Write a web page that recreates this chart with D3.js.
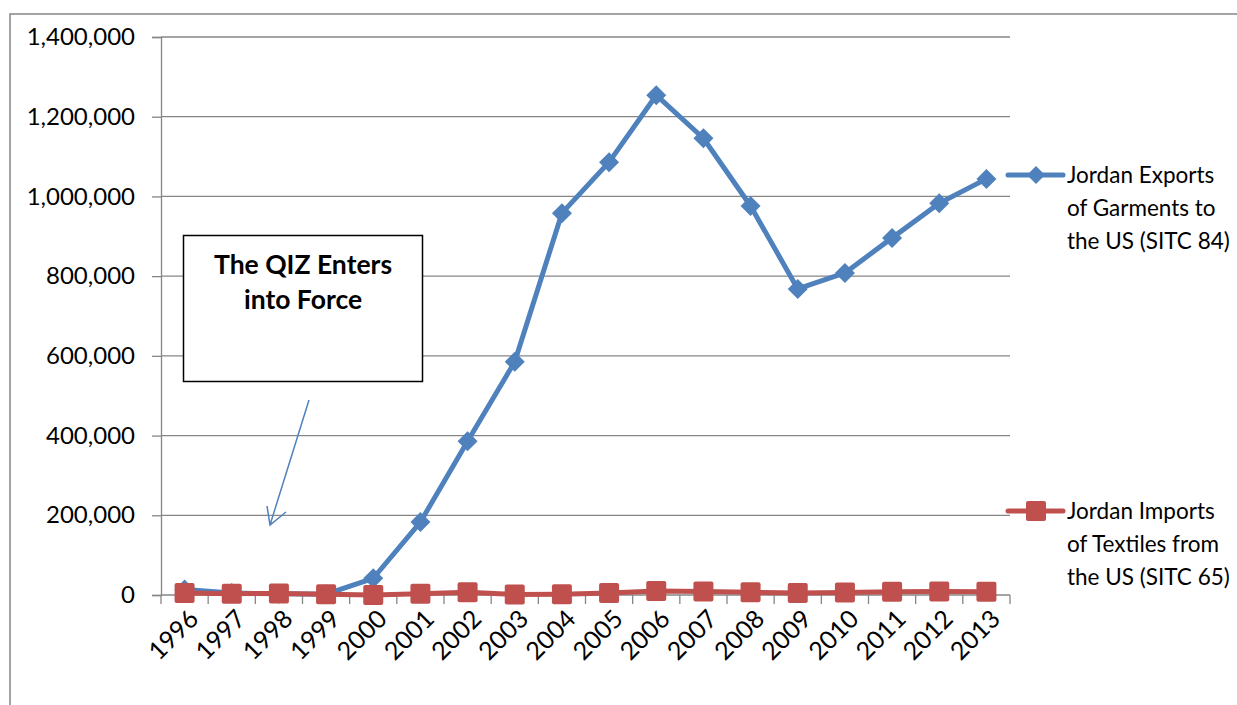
<!DOCTYPE html>
<html><head><meta charset="utf-8">
<script src="https://cdn.jsdelivr.net/npm/d3@7"></script>
<style>
html,body{margin:0;padding:0;background:#fff;overflow:hidden}
text{font-family:Lato,"Open Sans",sans-serif}
</style></head>
<body>
<svg id="c" width="1237" height="705"></svg>
<script>
const years = ["1996","1997","1998","1999","2000","2001","2002","2003","2004","2005","2006","2007","2008","2009","2010","2011","2012","2013"];
const garmentsExports = [14000,5000,3000,2000,42000,183000,386000,585000,958000,1086000,1254000,1146000,976000,768000,808000,896000,983000,1044000];
const textilesImports = [5000,3000,4000,2000,0,3000,7000,1000,2000,5000,10000,9000,7000,5000,6000,8000,9000,8000];
const yTicks = [0,200000,400000,600000,800000,1000000,1200000,1400000];
const seriesNames = [["Jordan Exports","of Garments to","the US (SITC 84)"],["Jordan Imports","of Textiles from","the US (SITC 65)"]];
const annotation = ["The QIZ Enters","into Force"];

const svg = d3.select("#c");
const L=161, R=1010, T=37, B=595;
const x = d3.scaleBand().domain(years).range([L,R]);
const y = d3.scaleLinear().domain([0,1400000]).range([B,T]);
const grey="#868686", blue="#4F81BD", red="#C0504D";

// outer border
svg.append("rect").attr("x",10).attr("y",14).attr("width",1300).attr("height",800)
  .attr("fill","none").attr("stroke",grey).attr("stroke-width",1.5);

// gridlines
svg.append("g").selectAll("line").data(yTicks.filter(d=>d>0)).join("line")
  .attr("x1",L).attr("x2",R).attr("y1",d=>y(d)).attr("y2",d=>y(d))
  .attr("stroke",grey).attr("stroke-width",1.3);

// y axis
const ya = svg.append("g").attr("transform",`translate(${L},0)`)
  .call(d3.axisLeft(y).tickValues(yTicks).tickSize(9).tickPadding(17).tickFormat(d3.format(",")));
ya.select(".domain").attr("stroke",grey).attr("stroke-width",1.3);
ya.selectAll(".tick line").attr("stroke",grey).attr("stroke-width",1.3);
ya.selectAll("text").attr("font-size",24).attr("fill","#000").style("font-family","Lato");

// x axis
const xa = svg.append("g").attr("transform",`translate(0,${B})`);
xa.append("line").attr("x1",L).attr("x2",R).attr("stroke",grey).attr("stroke-width",1.3);
const bounds = years.map(d=>x(d)).concat([R]);
xa.selectAll(".tk").data(bounds).join("line").attr("class","tk")
  .attr("x1",d=>d).attr("x2",d=>d).attr("y1",0).attr("y2",9).attr("stroke",grey).attr("stroke-width",1.3);
xa.selectAll(".lb").data(years).join("text").attr("class","lb")
  .attr("transform",d=>`translate(${x(d)+x.bandwidth()/2+3},${13}) rotate(-45)`)
  .attr("text-anchor","end").attr("dy","0.7em").attr("font-size",25).text(d=>d);

const cx = d=>x(d)+x.bandwidth()/2;
const line = d3.line().x((d,i)=>cx(years[i])).y(d=>y(d));

// blue series
svg.append("path").datum(garmentsExports).attr("d",line).attr("fill","none")
  .attr("stroke",blue).attr("stroke-width",5).attr("stroke-linejoin","round");
const diamond = s=>`M0,${-s}L${s},0L0,${s}L${-s},0Z`;
svg.append("g").selectAll("path").data(garmentsExports).join("path")
  .attr("transform",(d,i)=>`translate(${cx(years[i])},${y(d)})`).attr("d",diamond(10)).attr("fill",blue);

// red series
svg.append("path").datum(textilesImports).attr("d",line).attr("fill","none")
  .attr("stroke",red).attr("stroke-width",5).attr("stroke-linejoin","round");
svg.append("g").selectAll("rect").data(textilesImports).join("rect")
  .attr("x",(d,i)=>cx(years[i])-10).attr("y",d=>y(d)-10).attr("width",20).attr("height",20)
  .attr("rx",2).attr("fill",red);

// legend
const leg=[{c:blue,y:175,m:"d"},{c:red,y:511,m:"s"}];
leg.forEach((l,k)=>{
  const g=svg.append("g");
  g.append("line").attr("x1",1008).attr("x2",1063).attr("y1",l.y).attr("y2",l.y)
    .attr("stroke",l.c).attr("stroke-width",5).attr("stroke-linecap","round");
  if(l.m==="d") g.append("path").attr("transform",`translate(1036,${l.y})`).attr("d",diamond(9)).attr("fill",l.c);
  else g.append("rect").attr("x",1026).attr("y",l.y-10).attr("width",20).attr("height",20).attr("rx",2).attr("fill",l.c);
  seriesNames[k].forEach((t,j)=>g.append("text").attr("x",1067).attr("y",l.y+j*33).attr("dy","0.35em")
    .attr("font-size",22.5).text(t));
});

// annotation
svg.append("rect").attr("x",183.5).attr("y",235.5).attr("width",239).attr("height",146)
  .attr("fill","#fff").attr("stroke","#000").attr("stroke-width",1.5);
annotation.forEach((t,j)=>svg.append("text").attr("x",303).attr("y",274+j*35)
  .attr("text-anchor","middle").attr("font-size",26.5).attr("font-weight","bold").text(t));
svg.append("path").attr("d","M309,400L270,525M267,506L270,525L286,512")
  .attr("fill","none").attr("stroke",blue).attr("stroke-width",1.5);
</script>
</body></html>
